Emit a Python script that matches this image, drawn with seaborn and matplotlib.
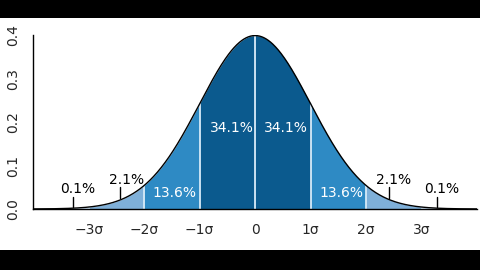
import numpy as np
import pandas as pd
import matplotlib
matplotlib.use("Agg")
import matplotlib.pyplot as plt
import seaborn as sns
from matplotlib.patches import Rectangle

# --- data ---
mean, sd = 0.0, 1.0
band_edges = [-4, -3, -2, -1, 0, 1, 2, 3, 4]
band_colors = ["#c6dcef", "#7fb0d9", "#2e8ac4", "#0b5a8e", "#0b5a8e", "#2e8ac4", "#7fb0d9", "#c6dcef"]
divider_pos = [-3, -2, -1, 0, 1, 2, 3]
inner_labels = ["13.6%", "34.1%", "34.1%", "13.6%"]
inner_x = [-1.45, -0.42, 0.56, 1.55]
inner_y = [0.037, 0.186, 0.186, 0.037]
outer_labels = ["0.1%", "2.1%", "2.1%", "0.1%"]
outer_text_x = [-3.2, -2.32, 2.5, 3.36]
outer_text_y = [0.046, 0.067, 0.067, 0.046]
pointer_x = [-3.29, -2.44, 2.42, 3.28]
pointer_y0 = [0.005, 0.025, 0.025, 0.005]
pointer_y1 = [0.028, 0.051, 0.051, 0.028]
xtick_pos = [-3, -2, -1, 0, 1, 2, 3]
xtick_labels = ["\u22123\u03c3", "\u22122\u03c3", "\u22121\u03c3", "0", "1\u03c3", "2\u03c3", "3\u03c3"]
ytick_pos = [0.0, 0.1, 0.2, 0.3, 0.4]
ytick_labels = ["0.0", "0.1", "0.2", "0.3", "0.4"]

def pdf(x):
    return np.exp(-0.5 * ((x - mean) / sd) ** 2) / (sd * np.sqrt(2 * np.pi))

xs = np.linspace(-4, 4, 801)
curve = pd.DataFrame({"x": xs, "y": pdf(xs)})

sns.set_style("white")
plt.rcParams["font.family"] = ["DejaVu Sans"]

fig = plt.figure(figsize=(4.8, 2.7), dpi=100)
ax = fig.add_axes([0.069, 0.226, 0.925, 0.644])

for i in range(len(band_edges) - 1):
    seg = np.linspace(band_edges[i], band_edges[i + 1], 120)
    ax.fill_between(seg, 0, pdf(seg), color=band_colors[i], linewidth=0, zorder=1)

for d in divider_pos:
    ax.plot([d, d], [0, pdf(d)], color="#d6eaf8", lw=1.3, zorder=2)

sns.lineplot(data=curve, x="x", y="y", ax=ax, color="black", lw=1.0, zorder=3)

for t, x, y in zip(inner_labels, inner_x, inner_y):
    ax.text(x, y, t, color="white", fontsize=10, ha="center", va="center", zorder=4)
for t, x, y in zip(outer_labels, outer_text_x, outer_text_y):
    ax.text(x, y, t, color="black", fontsize=10, ha="center", va="center", zorder=4)
for x, y0, y1 in zip(pointer_x, pointer_y0, pointer_y1):
    ax.plot([x, x], [y0, y1], color="black", lw=1.0, zorder=4)

ax.set_xlim(-4, 4)
ax.set_ylim(0, 0.4)
ax.set_xticks(xtick_pos)
ax.set_xticklabels(xtick_labels, fontsize=10)
ax.set_yticks(ytick_pos)
ax.set_yticklabels(ytick_labels, fontsize=10, rotation=90, va="center")
ax.set_xlabel("")
ax.set_ylabel("")
for s in ["top", "right"]:
    ax.spines[s].set_visible(False)
for s in ["left", "bottom"]:
    ax.spines[s].set_color("black")
    ax.spines[s].set_linewidth(1.0)
ax.tick_params(axis="x", direction="out", length=4, width=1, color="black", pad=6)
ax.tick_params(axis="y", direction="out", length=4, width=1, color="black", pad=5)

fig.patches.append(Rectangle((0, 1 - 18 / 270), 1, 18 / 270, transform=fig.transFigure,
                             facecolor="black", edgecolor="none", zorder=10))
fig.patches.append(Rectangle((0, 0), 1, 20 / 270, transform=fig.transFigure,
                             facecolor="black", edgecolor="none", zorder=10))

fig.savefig("out.png", dpi=100, facecolor="white")
